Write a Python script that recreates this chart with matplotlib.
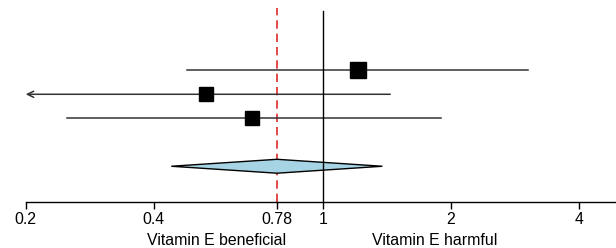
import matplotlib.pyplot as plt
from matplotlib.patches import Polygon
from matplotlib.ticker import FixedLocator, FixedFormatter, NullLocator

plt.rcParams['font.family'] = ['Liberation Sans', 'DejaVu Sans']

# study estimates (relative risk) and 95% CI
rr = [1.21, 0.53, 0.68]
lower = [0.48, 0.15, 0.25]
upper = [3.04, 1.44, 1.90]
study_rows = [5, 4, 3]

# pooled estimate
pooled = 0.78
pooled_lower = 0.44
pooled_upper = 1.38
pooled_row = 1

tick_vals = [0.2, 0.4, 0.78, 1, 2, 4, 8]
tick_text = ['0.2', '0.4', '0.78', '1', '2', '4', '8']
label_left = 'Vitamin E beneficial'
label_right = 'Vitamin E harmful'

fig = plt.figure(figsize=(6.16, 2.48), dpi=100)
ax = fig.add_axes([0, 46 / 248, 1, 202 / 248])
ax.set_xscale('log')
ax.set_xlim(0.174, 4.89)
ax.set_ylim(-0.49, 7.93)

xmin = 0.2
sq_sizes = [11.5, 10.5, 10.3]
for y, est, lo, hi, ms in zip(study_rows, rr, lower, upper, sq_sizes):
    if lo < xmin:
        ax.annotate('', xy=(xmin, y), xytext=(hi, y),
                    arrowprops=dict(arrowstyle='->,head_length=0.45,head_width=0.22',
                                    lw=1.1, color='#333333',
                                    shrinkA=0, shrinkB=0), zorder=2)
    else:
        ax.plot([lo, hi], [y, y], color='#333333', lw=1.1, zorder=2)
    ax.plot(est, y, marker='s', ms=ms, color='black', zorder=4)

# red dashed line at pooled estimate, under the diamond
ax.plot([pooled, pooled], [-0.49, 7.6], color='#e02a2a', lw=1.2,
        dashes=(5, 3), zorder=1)

dh = 0.29
diamond = Polygon([(pooled_lower, pooled_row), (pooled, pooled_row + dh),
                   (pooled_upper, pooled_row), (pooled, pooled_row - dh)],
                  closed=True, facecolor='#a6d4e4', edgecolor='black',
                  lw=1.0, zorder=3)
ax.add_patch(diamond)

# line of no effect
ax.plot([1, 1], [-0.49, 7.48], color='black', lw=1.0, zorder=5)

for s in ['top', 'right', 'left']:
    ax.spines[s].set_visible(False)
ax.spines['bottom'].set_bounds(0.2, 8)
ax.spines['bottom'].set_linewidth(1.0)
ax.xaxis.set_major_locator(FixedLocator(tick_vals))
ax.xaxis.set_major_formatter(FixedFormatter(tick_text))
ax.xaxis.set_minor_locator(NullLocator())
ax.tick_params(axis='x', length=5, width=1.0, pad=2.5, labelsize=11.4,
               colors='black')
ax.set_yticks([])

tr = ax.get_xaxis_transform()
ax.text(0.563, -0.193, label_left, transform=tr, ha='center', va='center',
        fontsize=11.4)
ax.text(1.83, -0.193, label_right, transform=tr, ha='center', va='center',
        fontsize=11.4)

fig.savefig('out.png', dpi=100)
